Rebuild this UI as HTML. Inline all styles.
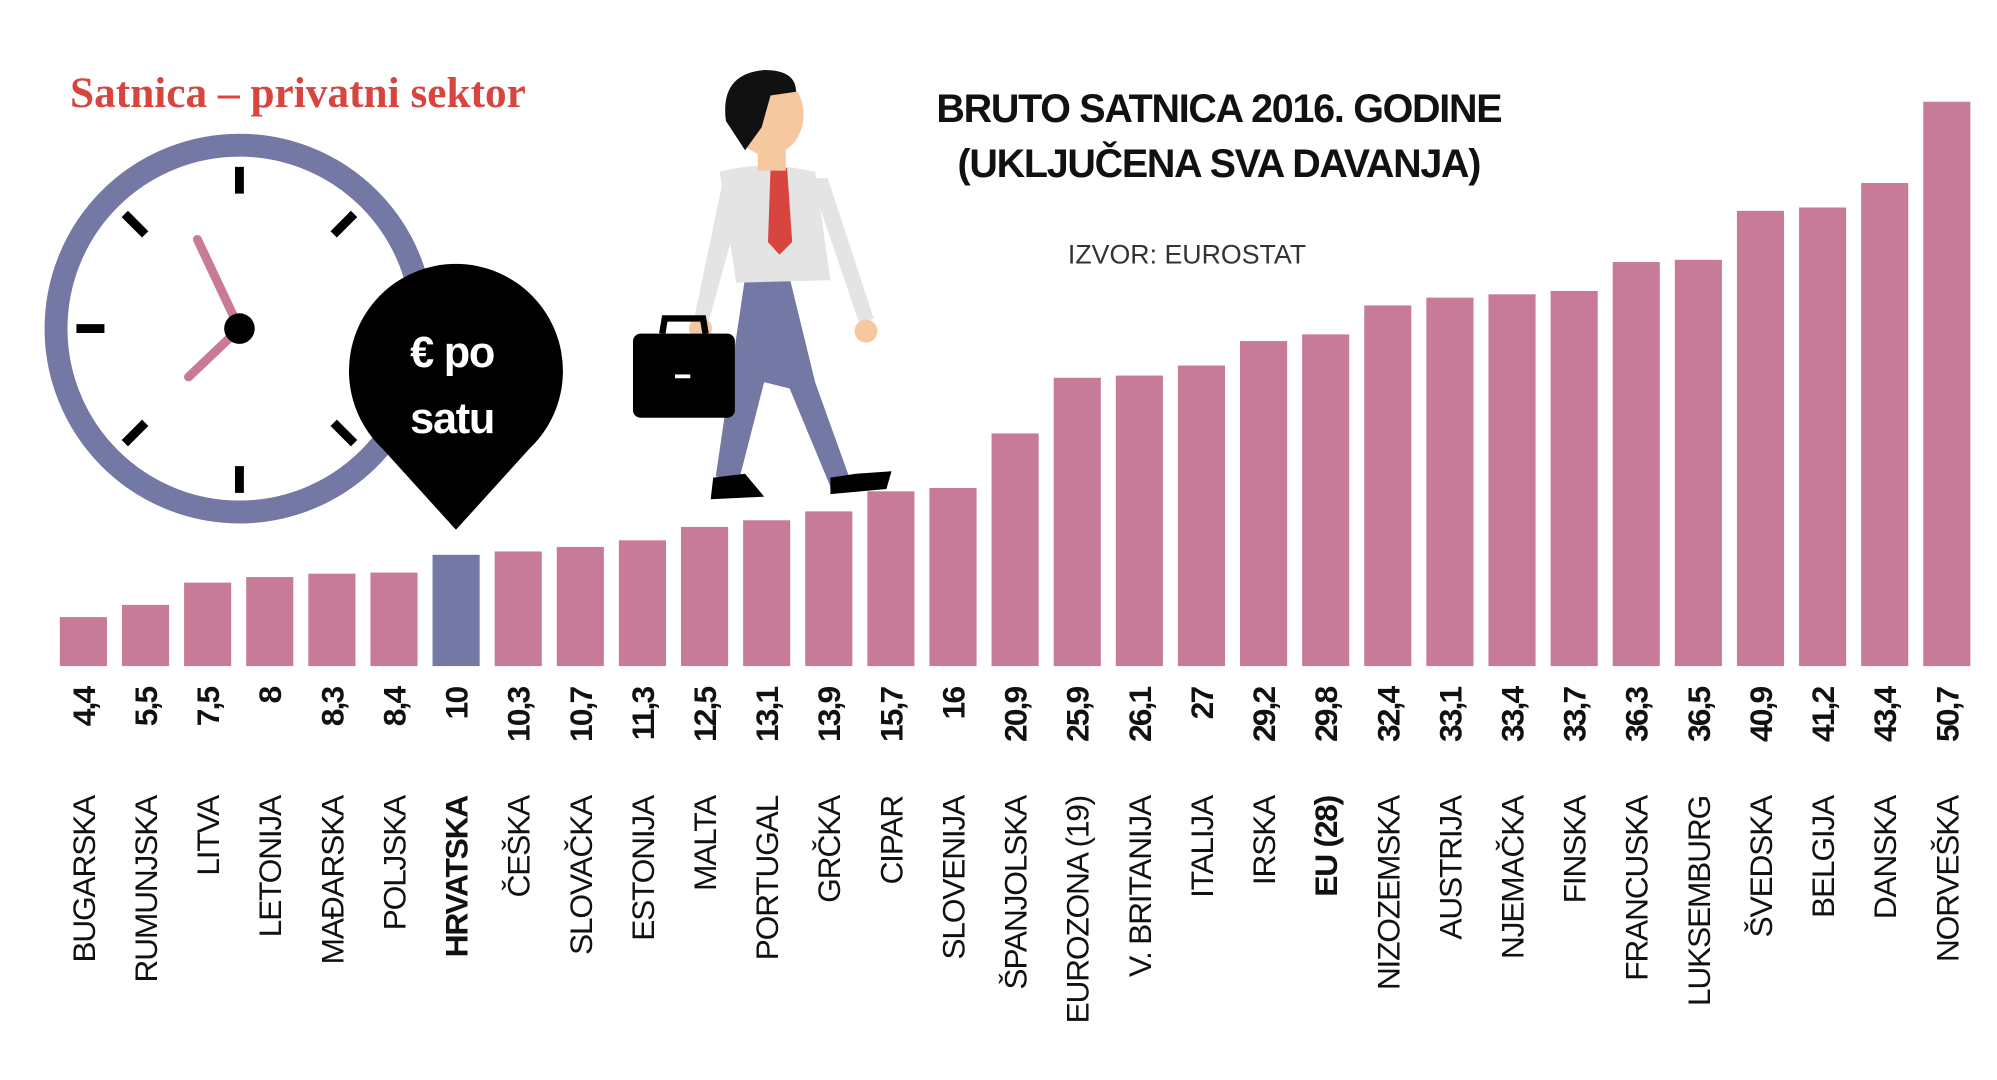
<!DOCTYPE html>
<html><head><meta charset="utf-8"><style>html,body{margin:0;padding:0;background:#fff}svg{display:block}</style></head>
<body>
<svg width="1997" height="1080" viewBox="0 0 1568 848" preserveAspectRatio="none" xmlns="http://www.w3.org/2000/svg">
<rect width="1568" height="848" fill="#fff"/>
<text x="55" y="84" font-family="Liberation Serif, serif" font-weight="bold" font-size="34" fill="#d8453f">Satnica – privatni sektor</text>
<!-- clock -->
<circle cx="188" cy="258" r="144" fill="none" stroke="#7478a4" stroke-width="18"/>
<g stroke="#000" stroke-width="7">
<line x1="188" y1="131" x2="188" y2="152"/><line x1="188" y1="366" x2="188" y2="387"/>
<line x1="60" y1="258" x2="82" y2="258"/>
<line x1="98" y1="168" x2="114" y2="184"/><line x1="278" y1="168" x2="262" y2="184"/>
<line x1="98" y1="348" x2="114" y2="332"/><line x1="278" y1="348" x2="262" y2="332"/>
</g>
<g stroke="#c97a96" stroke-width="7" stroke-linecap="round">
<line x1="188" y1="258" x2="155" y2="188"/><line x1="188" y1="258" x2="148" y2="296"/>
</g>
<circle cx="188" cy="258" r="12" fill="#000"/>
<!-- pin -->
<path d="M358 416 L300 352 A84 84 0 1 1 416 352 Z" fill="#000"/>
<text x="355" y="288" text-anchor="middle" font-family="Liberation Sans, sans-serif" font-weight="bold" font-size="34" letter-spacing="-1" fill="#fff">€ po</text>
<text x="355" y="340" text-anchor="middle" font-family="Liberation Sans, sans-serif" font-weight="bold" font-size="34" letter-spacing="-1" fill="#fff">satu</text>
<!-- man -->
<path d="M585 218 L620 218 L640 300 L668 378 L652 382 L620 305 L600 300 L580 378 L562 374 Z" fill="#7478a4"/>
<path d="M560 375 L585 372 L600 390 L558 392 Z" fill="#000"/>
<path d="M652 375 L672 372 L700 370 L696 384 L652 388 Z" fill="#000"/>
<path d="M565 135 Q600 125 640 135 L652 220 L578 222 Z" fill="#e4e4e4"/>
<path d="M568 140 L545 250 L556 254 L582 160 Z" fill="#e4e4e4"/>
<path d="M636 140 L675 255 L686 250 L650 140 Z" fill="#e4e4e4"/>
<circle cx="550" cy="258" r="9" fill="#f6c8a0"/>
<circle cx="680" cy="260" r="9" fill="#f6c8a0"/>
<path d="M605 132 L618 132 L622 190 L612 200 L603 190 Z" fill="#d8453f"/>
<rect x="595" y="110" width="22" height="24" fill="#f6c8a0"/>
<ellipse cx="603" cy="90" rx="28" ry="32" fill="#f6c8a0"/>
<path d="M570 95 Q565 58 600 55 Q625 55 625 72 L605 75 L598 100 L585 118 Z" fill="#111"/>
<rect x="497" y="262" width="80" height="66" rx="6" fill="#000"/>
<path d="M520 262 L522 250 L552 250 L554 262" stroke="#000" stroke-width="5" fill="none"/>
<rect x="530" y="294" width="12" height="3" fill="#fff"/>
<!-- title -->
<g font-family="Liberation Sans, sans-serif" font-weight="bold" text-anchor="middle" fill="#111">
<text x="957" y="96" font-size="31" letter-spacing="-1">BRUTO SATNICA 2016. GODINE</text>
<text x="957" y="139" font-size="31" letter-spacing="-1">(UKLJUČENA SVA DAVANJA)</text>
</g>
<text x="932" y="207" text-anchor="middle" font-family="Liberation Sans, sans-serif" font-size="21" fill="#333">IZVOR: EUROSTAT</text>
<g id="bars"></g>
</svg>
<script>
var v=[4.4,5.5,7.5,8,8.3,8.4,10,10.3,10.7,11.3,12.5,13.1,13.9,15.7,16,20.9,25.9,26.1,27,29.2,29.8,32.4,33.1,33.4,33.7,36.3,36.5,40.9,41.2,43.4,50.7];
var n=["BUGARSKA","RUMUNJSKA","LITVA","LETONIJA","MAĐARSKA","POLJSKA","HRVATSKA","ČEŠKA","SLOVAČKA","ESTONIJA","MALTA","PORTUGAL","GRČKA","CIPAR","SLOVENIJA","ŠPANJOLSKA","EUROZONA (19)","V. BRITANIJA","ITALIJA","IRSKA","EU (28)","NIZOZEMSKA","AUSTRIJA","NJEMAČKA","FINSKA","FRANCUSKA","LUKSEMBURG","ŠVEDSKA","BELGIJA","DANSKA","NORVEŠKA"];
var s="";
for(var i=0;i<31;i++){var x=47+i*48.77,h=v[i]*8.74,c=x+18.5;
s+='<rect x="'+x+'" y="'+(523-h)+'" width="37" height="'+h+'" fill="'+(i==6?'#7478a4':'#c87b98')+'"/>';
s+='<text transform="translate('+(c+9)+',540) rotate(-90)" text-anchor="end" font-family="Liberation Sans, sans-serif" font-weight="bold" font-size="25" letter-spacing="-1.5" fill="#111">'+String(v[i]).replace('.',',')+'</text>';
s+='<text transform="translate('+(c+9)+',625) rotate(-90)" text-anchor="end" font-family="Liberation Sans, sans-serif" '+((i==6||i==20)?'font-weight="bold" ':'')+'font-size="25" letter-spacing="-1" fill="#111">'+n[i]+'</text>';}
document.getElementById('bars').innerHTML=s;
</script>
</body></html>
